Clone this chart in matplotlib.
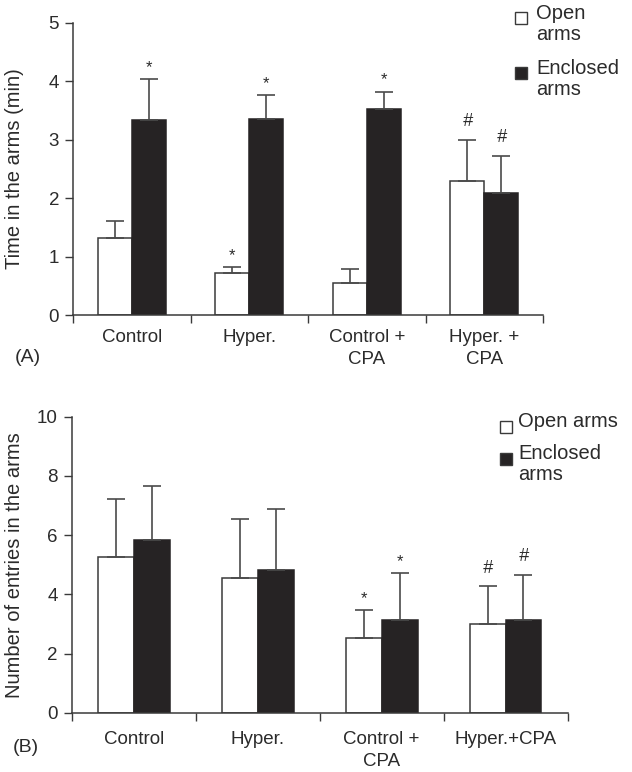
import matplotlib
matplotlib.use("Agg")
import matplotlib.pyplot as plt
from matplotlib.patches import Rectangle
import numpy as np

plt.rcParams['font.family'] = ['Liberation Sans', 'DejaVu Sans']

# ---- data ----
cats_a = ["Control", "Hyper.", "Control +\nCPA", "Hyper. +\nCPA"]
open_a = [1.32, 0.71, 0.54, 2.29]
open_a_err = [0.28, 0.11, 0.25, 0.70]
encl_a = [3.33, 3.35, 3.53, 2.09]
encl_a_err = [0.71, 0.41, 0.29, 0.63]
open_a_sig = ["", "*", "", "#"]
encl_a_sig = ["*", "*", "*", "#"]

cats_b = ["Control", "Hyper.", "Control +\nCPA", "Hyper.+CPA"]
open_b = [5.26, 4.54, 2.52, 2.99]
open_b_err = [1.96, 2.02, 0.95, 1.28]
encl_b = [5.84, 4.83, 3.13, 3.13]
encl_b_err = [1.81, 2.04, 1.59, 1.52]
open_b_sig = ["", "", "*", "#"]
encl_b_sig = ["", "", "*", "#"]

TXT = '#2b2b2b'
EDGE = '#3a3a3a'
DARK = '#262324'

fig = plt.figure(figsize=(6.32, 7.72), dpi=100)
axA = fig.add_axes([73/632, 1-315/772, (543-73)/632, (315-22.7)/772])
axB = fig.add_axes([71.7/632, 1-712.7/772, (567.5-71.7)/632, (712.7-416.7)/772])

def mark(ax, xi, top, s):
    if not s:
        return
    if s == '*':
        ax.annotate(s, (xi, top), xytext=(0, 3), textcoords='offset points',
                    ha='center', va='bottom', fontsize=12, color=TXT)
    else:
        ax.annotate(s, (xi, top), xytext=(0, 7), textcoords='offset points',
                    ha='center', va='bottom', fontsize=13, color=TXT,
                    fontstyle='italic')

def draw(ax, cats, ov, oe, ev, ee, osig, esig, ymax, yticks, xpad):
    n = len(cats)
    x = np.arange(n) + 0.5
    w = 0.29
    ekw = dict(ecolor='#4a4a4a', elinewidth=1.2, capsize=6.5, capthick=1.2)
    ax.bar(x - w/2, ov, w, color='white', edgecolor=EDGE, linewidth=1.1,
           yerr=[np.zeros(n), oe], error_kw=ekw, zorder=2)
    ax.bar(x + w/2, ev, w, color=DARK, edgecolor=DARK, linewidth=1.1,
           yerr=[np.zeros(n), ee], error_kw=ekw, zorder=2)
    for xi, v, e, s in zip(x - w/2, ov, oe, osig):
        mark(ax, xi, v + e, s)
    for xi, v, e, s in zip(x + w/2, ev, ee, esig):
        mark(ax, xi, v + e, s)
    ax.set_xlim(0, n)
    ax.set_ylim(0, ymax)
    ax.set_yticks(yticks)
    ax.set_xticks(np.arange(n + 1))
    ax.set_xticklabels([])
    ax.set_xticks(x, minor=True)
    ax.set_xticklabels(cats, minor=True, fontsize=13.5, color=TXT, linespacing=1.4)
    ax.tick_params(axis='x', which='minor', length=0, pad=xpad)
    ax.tick_params(axis='x', which='major', length=6, width=1, color=EDGE, direction='out')
    ax.tick_params(axis='y', length=6, width=1, color=EDGE, labelsize=13.5,
                   labelcolor=TXT, pad=4)
    for sp in ['top', 'right']:
        ax.spines[sp].set_visible(False)
    for sp in ['left', 'bottom']:
        ax.spines[sp].set_color(EDGE)
        ax.spines[sp].set_linewidth(1.1)

draw(axA, cats_a, open_a, open_a_err, encl_a, encl_a_err, open_a_sig, encl_a_sig, 5, range(0, 6), 10)
draw(axB, cats_b, open_b, open_b_err, encl_b, encl_b_err, open_b_sig, encl_b_sig, 10, range(0, 11, 2), 13)

axA.set_ylabel("Time in the arms (min)", fontsize=14.5, color=TXT)
axB.set_ylabel("Number of entries in the arms", fontsize=14.5, color=TXT)
axA.yaxis.set_label_coords(-0.105, 0.5)
axB.yaxis.set_label_coords(-0.097, 0.5)

fig.text(15/632, 1-358/772, "(A)", fontsize=14, color=TXT, va='center', ha='left')
fig.text(13/632, 1-748/772, "(B)", fontsize=14, color=TXT, va='center', ha='left')

def legend_box(xp, yp, filled):
    fig.patches.append(Rectangle((xp/632, 1-(yp+12)/772), 12/632, 12/772,
                                 transform=fig.transFigure,
                                 facecolor=DARK if filled else 'white',
                                 edgecolor=EDGE, linewidth=1))

# Legend A
legend_box(515, 12, False)
fig.text(536/632, 1-4/772, "Open\narms", fontsize=14.5, color=TXT, va='top', ha='left',
         linespacing=1.15)
legend_box(515, 67, True)
fig.text(536/632, 1-59/772, "Enclosed\narms", fontsize=14.5, color=TXT, va='top', ha='left',
         linespacing=1.15)

# Legend B
legend_box(500, 421, False)
fig.text(518/632, 1-412/772, "Open arms", fontsize=14.5, color=TXT, va='top', ha='left')
legend_box(500, 453, True)
fig.text(518/632, 1-444/772, "Enclosed\narms", fontsize=14.5, color=TXT, va='top', ha='left',
         linespacing=1.15)

fig.savefig("out.png", dpi=100)
